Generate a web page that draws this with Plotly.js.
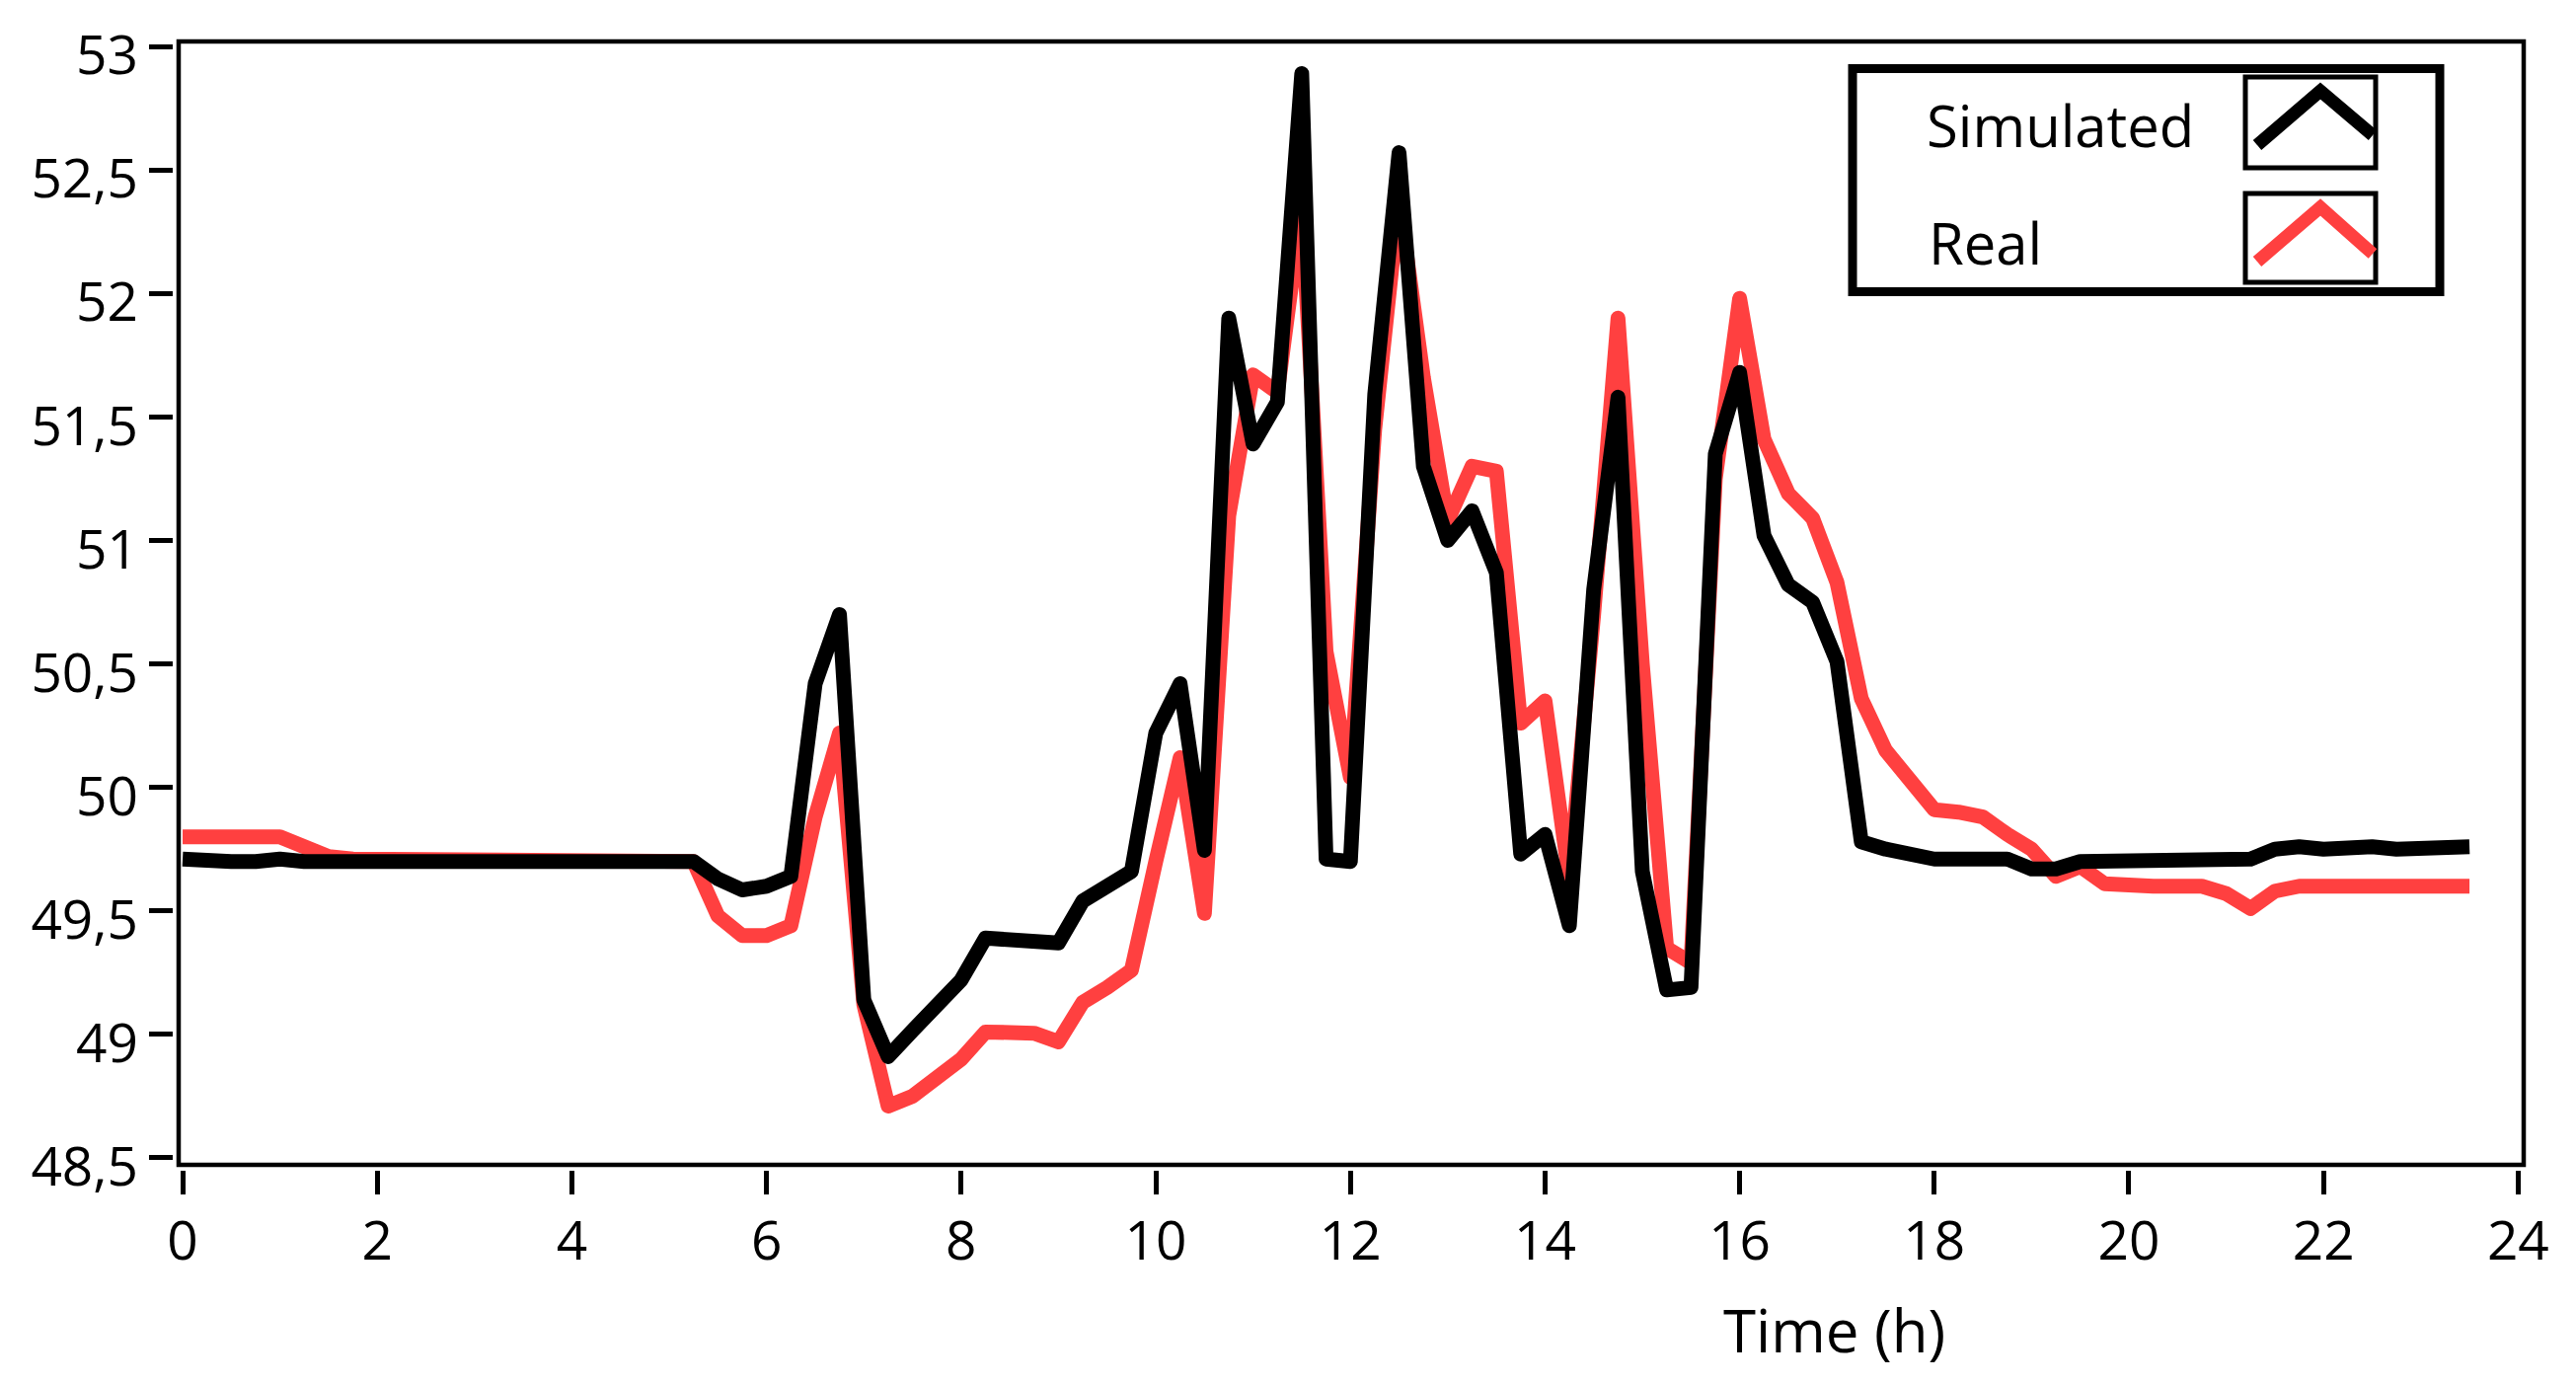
<!DOCTYPE html>
<html>
<head>
<meta charset="utf-8">
<script src="https://cdn.plot.ly/plotly-3.0.1.min.js"></script>
<style>
  html, body { margin: 0; padding: 0; background: #fff; }
  path.js-line { stroke-linejoin: round !important; }
</style>
</head>
<body>
<div id="chart"></div>
<script>
// time axis, one sample every 15 minutes
const hours = [
  0, 0.25, 0.5, 0.75, 1, 1.25, 1.5, 1.75, 2, 2.25, 2.5, 2.75,
  3, 3.25, 3.5, 3.75, 4, 4.25, 4.5, 4.75, 5, 5.25, 5.5, 5.75,
  6, 6.25, 6.5, 6.75, 7, 7.25, 7.5, 7.75, 8, 8.25, 8.5, 8.75,
  9, 9.25, 9.5, 9.75, 10, 10.25, 10.5, 10.75, 11, 11.25, 11.5, 11.75,
  12, 12.25, 12.5, 12.75, 13, 13.25, 13.5, 13.75, 14, 14.25, 14.5, 14.75,
  15, 15.25, 15.5, 15.75, 16, 16.25, 16.5, 16.75, 17, 17.25, 17.5, 17.75,
  18, 18.25, 18.5, 18.75, 19, 19.25, 19.5, 19.75, 20, 20.25, 20.5, 20.75,
  21, 21.25, 21.5, 21.75, 22, 22.25, 22.5, 22.75, 23, 23.25, 23.5
];

const simulated = [
  49.71, 49.70, 49.70, 49.70, 49.71, 49.70, 49.70, 49.70,
  49.70, 49.69, 49.69, 49.69, 49.70, 49.70, 49.70, 49.70,
  49.70, 49.70, 49.70, 49.70, 49.70, 49.70, 49.63, 49.585,
  49.60, 49.64, 50.42, 50.70, 49.14, 48.91, 49.015, 49.12,
  49.22, 49.39, 49.38, 49.385, 49.37, 49.54, 49.60, 49.66,
  50.22, 50.42, 49.745, 51.90, 51.39, 51.56, 52.89, 49.71,
  49.70, 51.59, 52.57, 51.30, 51.00, 51.12, 50.87, 49.73,
  49.81, 49.44, 50.80, 51.58, 49.66, 49.18, 49.19, 51.35,
  51.68, 51.02, 50.82, 50.75, 50.51, 49.78, 49.75, 49.73,
  49.71, 49.71, 49.71, 49.71, 49.67, 49.67, 49.70, 49.70,
  49.70, 49.70, 49.70, 49.70, 49.70, 49.71, 49.75, 49.76,
  49.75, 49.76, 49.76, 49.75, 49.75, 49.75, 49.76
];

const real = [
  49.80, 49.80, 49.80, 49.80, 49.80, 49.76, 49.72, 49.71,
  49.71, 49.71, 49.71, 49.71, 49.71, 49.71, 49.71, 49.71,
  49.71, 49.71, 49.71, 49.71, 49.71, 49.70, 49.48, 49.40,
  49.40, 49.44, 49.88, 50.22, 49.12, 48.71, 48.75, 48.82,
  48.90, 49.01, 49.005, 49.005, 48.97, 49.13, 49.19, 49.26,
  49.70, 50.12, 49.49, 51.10, 51.67, 51.60, 52.35, 50.55,
  50.04, 51.45, 52.38, 51.66, 51.08, 51.30, 51.28, 50.26,
  50.35, 49.63, 50.70, 51.90, 50.50, 49.35, 49.29, 51.25,
  51.98, 51.41, 51.19, 51.09, 50.83, 50.36, 50.15, 50.04,
  49.91, 49.90, 49.88, 49.81, 49.75, 49.64, 49.68, 49.61,
  49.60, 49.60, 49.60, 49.60, 49.57, 49.51, 49.58, 49.60,
  49.60, 49.60, 49.60, 49.60, 49.60, 49.60, 49.60
];

const seriesNames = ["Simulated", "Real"];
const seriesColors = ["#000000", "#ff4040"];
const xTickVals = [0, 2, 4, 6, 8, 10, 12, 14, 16, 18, 20, 22, 24];
const yTickVals = [48.5, 49, 49.5, 50, 50.5, 51, 51.5, 52, 52.5, 53];
const xTitle = "Time (h)";

const W = 2610, H = 1401;
const margin = { l: 175, r: 53, t: 42, b: 216 };
const pw = W - margin.l - margin.r;
const ph = H - margin.t - margin.b;
const FONT = "Open Sans, Noto Sans, sans-serif";

// pixel position -> paper fraction, used for the hand-made legend box
const px = (x) => (x - margin.l) / pw;
const py = (y) => (H - margin.b - y) / ph;

const traces = [
  {
    type: "scatter",
    mode: "lines",
    name: seriesNames[1],
    x: hours,
    y: real,
    line: { color: seriesColors[1], width: 15 },
  },
  {
    type: "scatter",
    mode: "lines",
    name: seriesNames[0],
    x: hours,
    y: simulated,
    line: { color: seriesColors[0], width: 15 },
  },
];

const axisCommon = {
  showgrid: false,
  zeroline: false,
  showline: false,
  ticks: "outside",
  ticklen: 24,
  tickwidth: 5,
  tickcolor: "#000",
  tickfont: { family: FONT, size: 55, color: "#000" },
  ticklabeloverflow: "allow",
  anchor: "free",
  position: 0,
};

const shapes = [
  // plot frame
  {
    type: "rect", xref: "x domain", yref: "y domain",
    x0: 0, x1: 1, y0: 0, y1: 1,
    line: { color: "#000", width: 4.5 },
  },
  // legend box
  {
    type: "rect", xref: "paper", yref: "paper",
    x0: px(1877), x1: px(2472), y0: py(69.5), y1: py(295.5),
    line: { color: "#000", width: 9 }, fillcolor: "#fff",
  },
];

// legend samples: small box with a chevron in the series colour
const sampleRows = [[78, 170, 147, 92, 137], [196, 286, 265, 210, 257]];
sampleRows.forEach((row, i) => {
  shapes.push({
    type: "rect", xref: "paper", yref: "paper",
    x0: px(2275), x1: px(2407), y0: py(row[0]), y1: py(row[1]),
    line: { color: "#000", width: 5 },
  });
  shapes.push({
    type: "path", xref: "paper", yref: "paper",
    path: `M ${px(2287)} ${py(row[2])} L ${px(2351)} ${py(row[3])} L ${px(2404)} ${py(row[4])}`,
    line: { color: seriesColors[i], width: 13 },
  });
});

const annotations = [
  {
    text: seriesNames[0], xref: "paper", yref: "paper",
    x: px(1950), y: py(127), xanchor: "left", yanchor: "middle",
    showarrow: false, font: { family: FONT, size: 58, color: "#000" },
  },
  {
    text: seriesNames[1], xref: "paper", yref: "paper",
    x: px(1952), y: py(245), xanchor: "left", yanchor: "middle",
    showarrow: false, font: { family: FONT, size: 58, color: "#000" },
  },
  {
    text: xTitle, xref: "paper", yref: "paper",
    x: px(1858), y: py(1347), xanchor: "center", yanchor: "middle",
    showarrow: false, font: { family: FONT, size: 60, color: "#000" },
  },
];

const layout = {
  width: W,
  height: H,
  margin: margin,
  paper_bgcolor: "#fff",
  plot_bgcolor: "#fff",
  showlegend: false,
  separators: ",.",
  xaxis: Object.assign({}, axisCommon, {
    domain: [6 / pw, 1],
    range: [-0.041, 24.057],
    tickvals: xTickVals,
    ticktext: xTickVals.map(String),
  }),
  yaxis: Object.assign({}, axisCommon, {
    domain: [5 / ph, 1],
    range: [48.472, 53.02],
    tickvals: yTickVals,
    ticktext: yTickVals.map((v) => String(v).replace(".", ",")),
    ticklabelshift: 9,
  }),
  shapes: shapes,
  annotations: annotations,
};

Plotly.newPlot("chart", traces, layout, { displayModeBar: false, staticPlot: true });
</script>
</body>
</html>
